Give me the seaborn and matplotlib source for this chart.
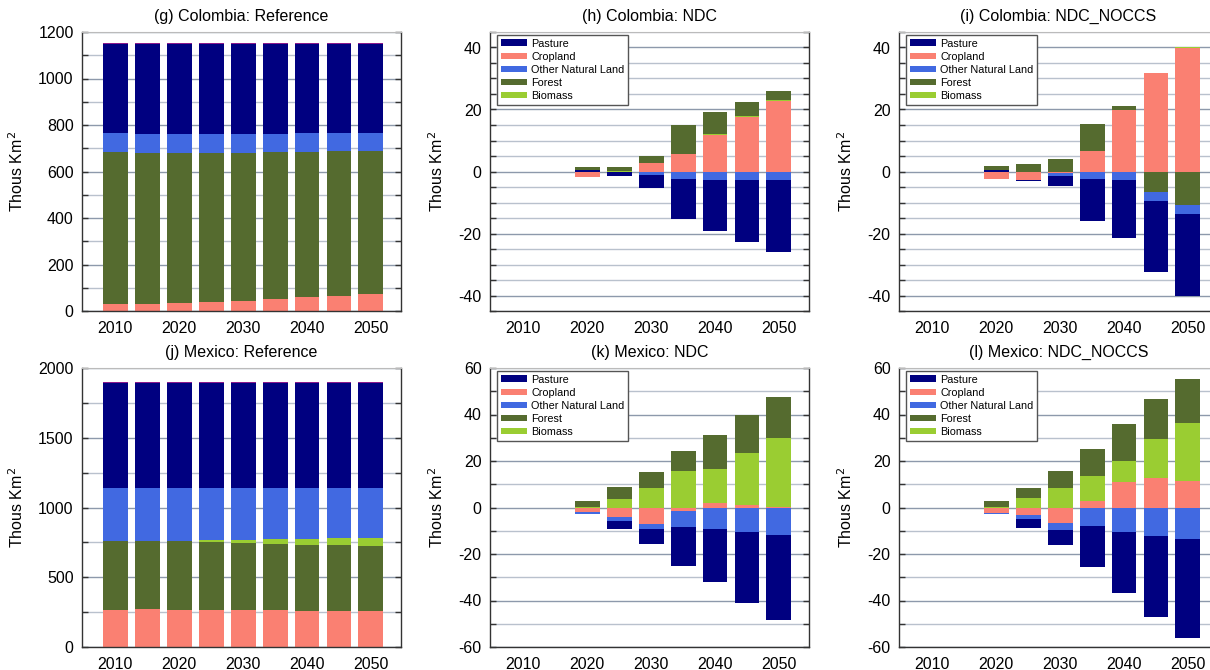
import matplotlib
matplotlib.use("Agg")
import matplotlib.pyplot as plt
from matplotlib.ticker import MultipleLocator
from matplotlib.patches import Patch
import seaborn as sns

years = [2010, 2015, 2020, 2025, 2030, 2035, 2040, 2045, 2050]

# (g) Colombia reference, thous km2
col_ref_cropland = [32, 32, 36, 39, 43, 50, 59, 66, 71]
col_ref_forest = [651, 647, 643, 640, 638, 633, 624, 622, 617]
col_ref_biomass = [0, 0, 0, 0, 0, 0, 0, 0, 0]
col_ref_other_natural = [84, 84, 84, 84, 82, 80, 82, 77, 77]
col_ref_pasture = [382, 386, 386, 386, 386, 386, 384, 384, 384]
col_ref_urban = [4, 4, 4, 4, 4, 4, 4, 4, 4]

# (h) Colombia NDC, change vs reference
col_ndc_pasture = [0, 0, 0.6, -1.3, -4.2, -13.0, -16.6, -20.3, -23.5]
col_ndc_cropland = [0, 0, -1.8, -0.3, 2.6, 5.7, 11.9, 17.7, 22.8]
col_ndc_other_natural = [0, 0, 0, 0, -1.0, -2.4, -2.6, -2.6, -2.6]
col_ndc_forest = [0, 0, 0.9, 1.2, 2.2, 9.3, 6.9, 4.4, 2.8]
col_ndc_biomass = [0, 0, 0, 0.1, 0.1, 0.1, 0.3, 0.3, 0.3]

# (i) Colombia NDC_NOCCS
col_noccs_pasture = [0, 0, 0.5, -0.5, -3.3, -13.6, -18.6, -23.0, -26.4]
col_noccs_cropland = [0, 0, -2.4, -2.6, -0.5, 6.5, 19.9, 31.8, 39.9]
col_noccs_other_natural = [0, 0, 0, 0, -0.8, -2.4, -2.9, -2.8, -2.9]
col_noccs_forest = [0, 0, 1.2, 2.4, 4.1, 8.7, 1.0, -6.6, -10.7]
col_noccs_biomass = [0, 0, 0, 0, 0, 0, 0.1, 0.1, 0.3]

# (j) Mexico reference
mex_ref_cropland = [267, 274, 267, 267, 267, 267, 260, 260, 255]
mex_ref_forest = [491, 484, 491, 484, 477, 472, 474, 469, 472]
mex_ref_biomass = [0, 0, 3, 14, 22, 34, 38, 50, 53]
mex_ref_other_natural = [380, 380, 377, 373, 372, 365, 366, 359, 358]
mex_ref_pasture = [751, 751, 751, 751, 751, 751, 751, 751, 751]
mex_ref_urban = [8, 8, 8, 8, 8, 8, 8, 8, 8]

# (k) Mexico NDC
mex_ndc_pasture = [0, 0, -0.4, -3.5, -6.5, -16.5, -23.1, -30.2, -36.4]
mex_ndc_cropland = [0, 0, -2.1, -4.2, -6.9, -1.4, 2.0, 1.2, 0.3]
mex_ndc_other_natural = [0, 0, -0.5, -1.4, -2.5, -7.1, -9.1, -10.7, -12.0]
mex_ndc_forest = [0, 0, 2.2, 4.9, 6.9, 8.5, 14.7, 16.6, 17.7]
mex_ndc_biomass = [0, 0, 0.4, 3.8, 8.4, 15.6, 14.6, 22.2, 29.6]

# (l) Mexico NDC_NOCCS
mex_noccs_pasture = [0, 0, -0.4, -4.0, -6.8, -17.7, -26.1, -34.9, -42.3]
mex_noccs_cropland = [0, 0, -2.2, -3.3, -6.5, 2.9, 10.8, 12.6, 11.5]
mex_noccs_other_natural = [0, 0, -0.4, -1.7, -3.0, -7.9, -10.5, -12.4, -13.7]
mex_noccs_forest = [0, 0, 2.2, 4.0, 7.5, 11.4, 16.0, 16.9, 19.0]
mex_noccs_biomass = [0, 0, 0.4, 4.2, 8.4, 10.7, 9.1, 17.0, 24.8]

legend_labels = ["Pasture", "Cropland", "Other Natural Land", "Forest", "Biomass"]
colors = {"Pasture": "#000080", "Cropland": "#FA8072", "Other Natural Land": "#4169E1",
          "Forest": "#556B2F", "Biomass": "#9ACD32", "Urban": "#8B1A8B"}

sns.set_style("white")
plt.rcParams["font.family"] = ["Liberation Sans", "DejaVu Sans"]
plt.rcParams["axes.unicode_minus"] = False
plt.rcParams["text.color"] = "black"
plt.rcParams["axes.labelcolor"] = "black"
plt.rcParams["xtick.labelcolor"] = "black"
plt.rcParams["ytick.labelcolor"] = "black"

fig = plt.figure(figsize=(12.1, 6.7), dpi=100)
W, H = 1210, 670


def make_ax(left, top):
    return fig.add_axes([left / W, 1 - (top + 279) / H, 319 / W, 279 / H])


def stack_bars(ax, series, order, positive):
    bottom = [0.0] * len(years)
    for name in order:
        vals = series[name]
        if positive:
            h = [v if v > 0 else 0 for v in vals]
        else:
            h = [v if v < 0 else 0 for v in vals]
        sns.barplot(x=years, y=h, bottom=list(bottom), native_scale=True, width=0.78,
                    color=colors[name], saturation=1, errorbar=None, linewidth=0, ax=ax)
        bottom = [b + v for b, v in zip(bottom, h)]


def style_ax(ax, title, ylim, major, minor):
    ax.set_xlim(2004.8, 2054.7)
    ax.set_ylim(*ylim)
    ax.set_xticks([2010, 2020, 2030, 2040, 2050])
    ax.yaxis.set_major_locator(MultipleLocator(major))
    ax.yaxis.set_minor_locator(MultipleLocator(minor))
    ax.set_axisbelow(True)
    ax.grid(axis="y", which="major", color="#8d99ab", lw=1)
    ax.grid(axis="y", which="minor", color="#b9c1cd", lw=1)
    ax.grid(axis="x", visible=False)
    ax.tick_params(axis="y", which="both", direction="in", left=True, right=True,
                   length=4, width=1, color="#333333", labelsize=11.5, pad=6)
    ax.tick_params(axis="x", length=0, labelsize=11.5, pad=7)
    for s in ["left", "bottom", "right"]:
        ax.spines[s].set_color("#333333")
        ax.spines[s].set_linewidth(1)
    ax.spines["top"].set_color("#bbbbbb")
    ax.set_title(title, fontsize=11.5, pad=8)
    ax.set_ylabel("Thous Km$^2$", fontsize=11.5, labelpad=9)
    ax.set_xlabel("")


ref_order = ["Cropland", "Forest", "Biomass", "Other Natural Land", "Pasture", "Urban"]
pos_order = ["Pasture", "Cropland", "Other Natural Land", "Biomass", "Forest"]
neg_order = ["Cropland", "Forest", "Biomass", "Other Natural Land", "Pasture"]

panels = [
    (82, 32, "(g) Colombia: Reference", "ref", (0, 1200), 200, 100,
     {"Cropland": col_ref_cropland, "Forest": col_ref_forest, "Biomass": col_ref_biomass,
      "Other Natural Land": col_ref_other_natural, "Pasture": col_ref_pasture, "Urban": col_ref_urban}),
    (490, 32, "(h) Colombia: NDC", "diff", (-45, 45), 20, 5,
     {"Pasture": col_ndc_pasture, "Cropland": col_ndc_cropland, "Other Natural Land": col_ndc_other_natural,
      "Forest": col_ndc_forest, "Biomass": col_ndc_biomass}),
    (899, 32, "(i) Colombia: NDC_NOCCS", "diff", (-45, 45), 20, 5,
     {"Pasture": col_noccs_pasture, "Cropland": col_noccs_cropland, "Other Natural Land": col_noccs_other_natural,
      "Forest": col_noccs_forest, "Biomass": col_noccs_biomass}),
    (82, 368, "(j) Mexico: Reference", "ref", (0, 2000), 500, 250,
     {"Cropland": mex_ref_cropland, "Forest": mex_ref_forest, "Biomass": mex_ref_biomass,
      "Other Natural Land": mex_ref_other_natural, "Pasture": mex_ref_pasture, "Urban": mex_ref_urban}),
    (490, 368, "(k) Mexico: NDC", "diff", (-60, 60), 20, 10,
     {"Pasture": mex_ndc_pasture, "Cropland": mex_ndc_cropland, "Other Natural Land": mex_ndc_other_natural,
      "Forest": mex_ndc_forest, "Biomass": mex_ndc_biomass}),
    (899, 368, "(l) Mexico: NDC_NOCCS", "diff", (-60, 60), 20, 10,
     {"Pasture": mex_noccs_pasture, "Cropland": mex_noccs_cropland, "Other Natural Land": mex_noccs_other_natural,
      "Forest": mex_noccs_forest, "Biomass": mex_noccs_biomass}),
]

for left, top, title, kind, ylim, major, minor, series in panels:
    ax = make_ax(left, top)
    if kind == "ref":
        stack_bars(ax, series, ref_order, True)
    else:
        stack_bars(ax, series, pos_order, True)
        stack_bars(ax, series, neg_order, False)
        handles = [Patch(facecolor=colors[n], edgecolor="none", label=n) for n in legend_labels]
        leg = ax.legend(handles=handles, loc="upper left", bbox_to_anchor=(0.022, 0.99),
                        borderaxespad=0, fontsize=7.8, handlelength=2.4, handleheight=0.55,
                        labelspacing=0.28, handletextpad=0.4, borderpad=0.35,
                        fancybox=False, framealpha=1, edgecolor="#555555")
        leg.get_frame().set_linewidth(1)
    style_ax(ax, title, ylim, major, minor)

fig.savefig("out.png", dpi=100)
